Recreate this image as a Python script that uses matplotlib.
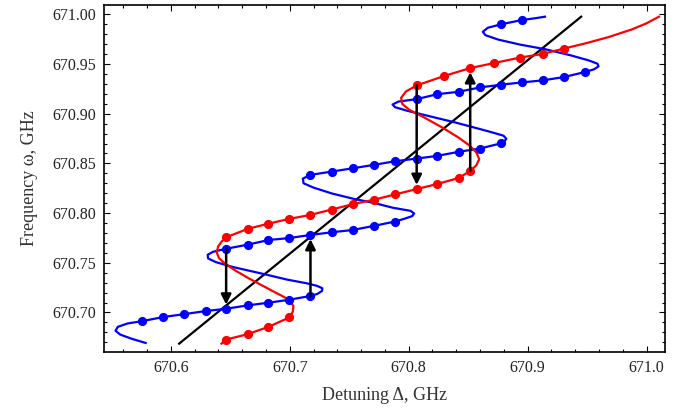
import matplotlib
matplotlib.use("Agg")
import matplotlib.pyplot as plt
from matplotlib.ticker import MultipleLocator, FormatStrFormatter

# blue branch (detuning, frequency)
blue_x = [670.5788, 670.5666, 670.5575, 670.5535, 670.5554, 670.5636, 670.5757,
          670.5933, 670.6113, 670.6292, 670.6465, 670.6645, 670.6821, 670.6997, 670.7174,
          670.7231, 670.7271, 670.7274, 670.7231, 670.7140, 670.6976, 670.6751, 670.6526,
          670.6380, 670.6313, 670.6310, 670.6356,
          670.6465, 670.6645, 670.6821, 670.6997, 670.7174, 670.7353, 670.7529, 670.7706, 670.7885,
          670.7961, 670.8028, 670.8046, 670.8015, 670.7870, 670.7702, 670.7535, 670.7353,
          670.7201, 670.7116, 670.7110,
          670.7171, 670.7353, 670.7529, 670.7706, 670.7885, 670.8067, 670.8240, 670.8420,
          670.8599, 670.8772,
          670.8806, 670.8821, 670.8797, 670.8721, 670.8599, 670.8386, 670.8189, 670.7991,
          670.7885, 670.7864, 670.7915,
          670.8067, 670.8240, 670.8420, 670.8599, 670.8772, 670.8949, 670.9125, 670.9304, 670.9481,
          670.9557, 670.9596, 670.9587, 670.9511, 670.9359, 670.9146, 670.8933, 670.8751,
          670.8645, 670.8623, 670.8666,
          670.8772, 670.8949, 670.9055, 670.9146]
blue_y = [670.6693, 670.6737, 670.6777, 670.6815, 670.6855, 670.6889, 670.6912,
          670.6953, 670.6983, 670.7014, 670.7037, 670.7071, 670.7098, 670.7128, 670.7166,
          670.7186, 670.7216, 670.7243, 670.7267, 670.7294, 670.7331, 670.7395, 670.7456,
          670.7506, 670.7544, 670.7581, 670.7611,
          670.7641, 670.7682, 670.7729, 670.7749, 670.7780, 670.7807, 670.7830, 670.7871, 670.7915,
          670.7942, 670.7969, 670.7996, 670.8023, 670.8053, 670.8104, 670.8144, 670.8198,
          670.8256, 670.8300, 670.8347,
          670.8384, 670.8418, 670.8451, 670.8485, 670.8522, 670.8549, 670.8576, 670.8617,
          670.8650, 670.8701,
          670.8725, 670.8748, 670.8779, 670.8806, 670.8846, 670.8914, 670.8971, 670.9029,
          670.9066, 670.9093, 670.9123,
          670.9147, 670.9197, 670.9221, 670.9265, 670.9292, 670.9315, 670.9336, 670.9369, 670.9420,
          670.9447, 670.9477, 670.9504, 670.9538, 670.9589, 670.9650, 670.9697, 670.9747,
          670.9791, 670.9825, 670.9866,
          670.9899, 670.9943, 670.9960, 670.9977]

# blue markers
blue_dot_x = [670.5757, 670.5933, 670.6113, 670.6292, 670.6465, 670.6645, 670.6821, 670.6997, 670.7174,
              670.6465, 670.6645, 670.6821, 670.6997, 670.7174, 670.7353, 670.7529, 670.7706, 670.7885,
              670.7171, 670.7353, 670.7529, 670.7706, 670.7885, 670.8067, 670.8240, 670.8420, 670.8599, 670.8772,
              670.8067, 670.8240, 670.8420, 670.8599, 670.8772, 670.8949, 670.9125, 670.9304, 670.9481,
              670.8772, 670.8949]
blue_dot_y = [670.6912, 670.6953, 670.6983, 670.7014, 670.7037, 670.7071, 670.7098, 670.7128, 670.7166,
              670.7641, 670.7682, 670.7729, 670.7749, 670.7780, 670.7807, 670.7830, 670.7871, 670.7915,
              670.8384, 670.8418, 670.8451, 670.8485, 670.8522, 670.8549, 670.8576, 670.8617, 670.8650, 670.8701,
              670.9147, 670.9197, 670.9221, 670.9265, 670.9292, 670.9315, 670.9336, 670.9369, 670.9420,
              670.9899, 670.9943]

# red branch
red_x = [670.6426, 670.6465, 670.6645, 670.6821, 670.6997,
         670.7025, 670.7031, 670.7006, 670.6958, 670.6882, 670.6775, 670.6654, 670.6547,
         670.6456, 670.6405, 670.6386, 670.6398, 670.6429,
         670.6465, 670.6645, 670.6821, 670.6997, 670.7174, 670.7353, 670.7529, 670.7706, 670.7885,
         670.8067, 670.8240, 670.8420, 670.8517,
         670.8569, 670.8593, 670.8569, 670.8514, 670.8417, 670.8280, 670.8128, 670.8006,
         670.7946, 670.7936, 670.7976,
         670.8067, 670.8295, 670.8517, 670.8721, 670.8933, 670.9125, 670.9304,
         670.9481, 670.9678, 670.9876, 670.9997, 671.0104]
red_y = [670.6686, 670.6727, 670.6781, 670.6855, 670.6950,
         670.7007, 670.7064, 670.7108, 670.7152, 670.7199, 670.7267, 670.7344, 670.7419,
         670.7490, 670.7547, 670.7604, 670.7665, 670.7716,
         670.7756, 670.7841, 670.7894, 670.7942, 670.7982, 670.8036, 670.8090, 670.8134, 670.8188,
         670.8242, 670.8293, 670.8353, 670.8424,
         670.8482, 670.8543, 670.8610, 670.8678, 670.8762, 670.8863, 670.8964, 670.9039,
         670.9099, 670.9160, 670.9224,
         670.9285, 670.9379, 670.9460, 670.9511, 670.9565, 670.9602, 670.9656,
         670.9707, 670.9771, 670.9849, 670.9909, 670.9977]

red_dot_x = [670.6465, 670.6645, 670.6821, 670.6997,
             670.6465, 670.6645, 670.6821, 670.6997, 670.7174, 670.7353, 670.7529, 670.7706, 670.7885,
             670.8067, 670.8240, 670.8420, 670.8517,
             670.8067, 670.8295, 670.8517, 670.8721, 670.8933, 670.9125, 670.9304]
red_dot_y = [670.6727, 670.6781, 670.6855, 670.6950,
             670.7756, 670.7841, 670.7894, 670.7942, 670.7982, 670.8036, 670.8090, 670.8134, 670.8188,
             670.8242, 670.8293, 670.8353, 670.8424,
             670.9285, 670.9379, 670.9460, 670.9511, 670.9565, 670.9602, 670.9656]

# bare resonance line
line_x = [670.6070, 670.9450]
line_y = [670.6686, 670.9977]

# transitions: (detuning, from frequency, to frequency)
arrow_x = [670.6465, 670.7174, 670.8067, 670.8517]
arrow_from = [670.7641, 670.7166, 670.9285, 670.8424]
arrow_to = [670.7037, 670.7780, 670.8242, 670.9460]

plt.rcParams["font.family"] = ["Liberation Serif", "DejaVu Serif"]
plt.rcParams["mathtext.fontset"] = "stix"

fig = plt.figure(figsize=(6.91, 4.08), dpi=100)
ax = fig.add_axes([0.1505, 0.1373, 0.8119, 0.8505])

ax.plot(line_x, line_y, color="black", lw=1.6, zorder=2)
ax.plot(blue_x, blue_y, color="#0000ff", lw=1.6, zorder=3)
ax.plot(red_x, red_y, color="#ff0000", lw=1.6, zorder=3)
ax.plot(blue_dot_x, blue_dot_y, "o", color="#0000ff", ms=5.6, zorder=4)
ax.plot(red_dot_x, red_dot_y, "o", color="#ff0000", ms=5.6, zorder=4)

for x, y0, y1 in zip(arrow_x, arrow_from, arrow_to):
    ax.annotate("", xy=(x, y1), xytext=(x, y0),
                arrowprops=dict(arrowstyle="-|>", color="black", lw=1.8,
                                mutation_scale=15, shrinkA=0, shrinkB=3),
                zorder=5)

ax.set_xlim(670.5438, 671.0155)
ax.set_ylim(670.6602, 671.0095)

ax.xaxis.set_major_locator(MultipleLocator(0.1))
ax.xaxis.set_minor_locator(MultipleLocator(0.02))
ax.yaxis.set_major_locator(MultipleLocator(0.05))
ax.yaxis.set_minor_locator(MultipleLocator(0.01))
ax.xaxis.set_major_formatter(FormatStrFormatter("%.1f"))
ax.yaxis.set_major_formatter(FormatStrFormatter("%.2f"))
ax.tick_params(which="both", direction="in", top=True, right=True,
               labelsize=11.5, labelcolor="#222222", width=0.8)
ax.tick_params(which="major", length=4, pad=6)
ax.tick_params(which="minor", length=2)
for s in ax.spines.values():
    s.set_linewidth(1.2)

ax.set_xlabel("Detuning Δ, GHz", fontsize=13, color="#333333", labelpad=8)
ax.set_ylabel("Frequency ω, GHz", fontsize=13, color="#333333", labelpad=10)

fig.savefig("out.png", dpi=100)
